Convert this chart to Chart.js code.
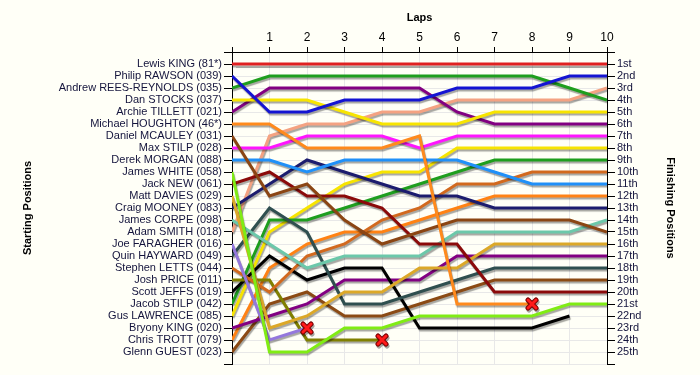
<!DOCTYPE html>
<html>
<head>
<meta charset="utf-8">
<script src="https://cdn.jsdelivr.net/npm/chart.js@4.4.1/dist/chart.umd.min.js"></script>
<style>
  html, body { margin: 0; padding: 0; background: #fffff7; }
  #lapChart { display: block; }
</style>
</head>
<body>
<canvas id="lapChart" width="700" height="375"></canvas>
<script>
// Lap chart data: position of each driver at the end of every lap (lap 0 = grid)
const laps = [0, 1, 2, 3, 4, 5, 6, 7, 8, 9, 10];

const drivers = [
    'Lewis KING (81*)', 'Philip RAWSON (039)', 'Andrew REES-REYNOLDS (035)', 'Dan STOCKS (037)',
    'Archie TILLETT (021)', 'Michael HOUGHTON (46*)', 'Daniel MCAULEY (031)', 'Max STILP (028)',
    'Derek MORGAN (088)', 'James WHITE (058)', 'Jack NEW (061)', 'Matt DAVIES (029)',
    'Craig MOONEY (083)', 'James CORPE (098)', 'Adam SMITH (018)', 'Joe FARAGHER (016)',
    'Quin HAYWARD (049)', 'Stephen LETTS (044)', 'Josh PRICE (011)', 'Scott JEFFS (019)',
    'Jacob STILP (042)', 'Gus LAWRENCE (085)', 'Bryony KING (020)', 'Chris TROTT (079)',
    'Glenn GUEST (023)'
];

const finishLabels = [
    '1st', '2nd', '3rd', '4th', '5th', '6th', '7th', '8th', '9th', '10th',
    '11th', '12th', '13th', '14th', '15th', '16th', '17th', '18th', '19th', '20th',
    '21st', '22nd', '23rd', '24th', '25th'
];

const lewisKing          = [1, 1, 1, 1, 1, 1, 1, 1, 1, 1, 1];
const philipRawson       = [2, 5, 5, 4, 4, 4, 3, 3, 3, 2, 2];
const andrewReesReynolds = [3, 2, 2, 2, 2, 2, 2, 2, 2, 3, 4];
const danStocks          = [4, 4, 4, 5, 6, 6, 6, 5, 5, 5, 5];
const archieTillett      = [5, 3, 3, 3, 3, 3, 5, 6, 6, 6, 6];
const michaelHoughton    = [6, 6, 8, 8, 8, 7, 21, 21, 21];
const danielMcauley      = [7, 12, 11, 14, 16, 15, 14, 14, 14, 14, 15];
const maxStilp           = [8, 8, 7, 7, 7, 8, 7, 7, 7, 7, 7];
const derekMorgan        = [9, 9, 10, 9, 9, 9, 9, 10, 11, 11, 11];
const jamesWhite         = [10, 25, 25, 23, 23, 22, 22, 22, 22, 21, 21];
const jackNew            = [11, 10, 12, 12, 13, 16, 16, 20, 20, 20, 20];
const mattDavies         = [12, 23, 22, 20, 20, 18, 18, 16, 16, 16, 16];
const craigMooney        = [13, 11, 9, 10, 11, 12, 12, 13, 13, 13, 13];
const jamesCorpe         = [14, 16, 18, 17, 17, 17, 15, 15, 15, 15, 14];
const adamSmith          = [15, 7, 6, 6, 5, 5, 4, 4, 4, 4, 3];
const joeFaragher        = [16, 24, 23];
const quinHayward        = [17, 13, 15, 21, 21, 20, 19, 18, 18, 18, 18];
const stephenLetts       = [18, 20, 17, 16, 14, 13, 11, 11, 10, 10, 10];
const joshPrice          = [19, 19, 24, 24, 24];
const scottJeffs         = [20, 17, 19, 18, 18, 23, 23, 23, 23, 22];
const jacobStilp         = [21, 14, 14, 13, 12, 11, 10, 9, 9, 9, 9];
const gusLawrence        = [22, 15, 13, 11, 10, 10, 8, 8, 8, 8, 8];
const bryonyKing         = [23, 22, 21, 19, 19, 19, 17, 17, 17, 17, 17];
const chrisTrott         = [24, 18, 16, 15, 15, 14, 13, 12, 12, 12, 12];
const glennGuest         = [25, 21, 20, 22, 22, 21, 20, 19, 19, 19, 19];

const positions = [
    lewisKing, philipRawson, andrewReesReynolds, danStocks, archieTillett, michaelHoughton,
    danielMcauley, maxStilp, derekMorgan, jamesWhite, jackNew, mattDavies, craigMooney,
    jamesCorpe, adamSmith, joeFaragher, quinHayward, stephenLetts, joshPrice, scottJeffs,
    jacobStilp, gusLawrence, bryonyKing, chrisTrott, glennGuest
];

// drivers whose last point gets the red cross (retired)
const retiredDrivers = ['Michael HOUGHTON (46*)', 'Joe FARAGHER (016)', 'Josh PRICE (011)'];

// line colours, same order as drivers
const lineColors = [
    '#e02020', '#1414d2', '#1e9e1e', '#f7e400', '#820082', '#ff8a1c', '#8b4513', '#ff14ff',
    '#2090f8', '#80ec14', '#8b0a0a', '#dca828', '#1c1c6e', '#6cc8aa', '#f4a282', '#9478dc',
    '#2f4f4f', '#d2691e', '#808000', '#000000', '#1e9e1e', '#f7e400', '#820082', '#ff8214',
    '#8b4a14'
];

// red cross marker
const cross = document.createElement('canvas');
cross.width = 14;
cross.height = 14;
(function() {
    const c = cross.getContext('2d');
    c.lineCap = 'round';
    c.strokeStyle = '#7a0000';
    c.lineWidth = 5;
    c.beginPath(); c.moveTo(3, 3); c.lineTo(11, 11); c.moveTo(11, 3); c.lineTo(3, 11); c.stroke();
    c.strokeStyle = '#ff1a1a';
    c.lineWidth = 3;
    c.beginPath(); c.moveTo(3, 3); c.lineTo(11, 11); c.moveTo(11, 3); c.lineTo(3, 11); c.stroke();
})();

const datasets = drivers.map(function(name, i) {
    return {
        label: name,
        data: positions[i].map(function(p, lap) { return { x: laps[lap], y: p }; }),
        borderColor: lineColors[i],
        backgroundColor: lineColors[i],
        borderWidth: 3,
        pointRadius: 0,
        tension: 0,
        fill: false
    };
});

datasets.unshift({
    label: 'Retired',
    type: 'scatter',
    data: retiredDrivers.map(function(name) {
        const p = positions[drivers.indexOf(name)];
        return { x: laps[p.length - 1], y: p[p.length - 1] };
    }),
    pointStyle: cross,
    pointRadius: 7,
    showLine: false
});

// soft drop shadow under every line
const shadowPlugin = {
    id: 'lineShadow',
    beforeDatasetDraw(chart) {
        const ctx = chart.ctx;
        ctx.save();
        ctx.shadowColor = 'rgba(0, 0, 0, 0.35)';
        ctx.shadowOffsetX = 1;
        ctx.shadowOffsetY = 2;
        ctx.shadowBlur = 1;
    },
    afterDatasetDraw(chart) {
        chart.ctx.restore();
    }
};

const bgPlugin = {
    id: 'bg',
    beforeDraw(chart) {
        const ctx = chart.ctx;
        ctx.save();
        ctx.fillStyle = '#fffff7';
        ctx.fillRect(0, 0, chart.width, chart.height);
        ctx.restore();
    }
};

const tickFont = { family: '"Liberation Sans", Arial, sans-serif', size: 11 };
const titleFont = { family: '"Liberation Sans", Arial, sans-serif', size: 11, weight: 'bold' };

const lapCtx = document.getElementById('lapChart').getContext('2d');
const lapChart = new Chart(lapCtx, {
    type: 'line',
    data: { datasets: datasets },
    plugins: [bgPlugin, shadowPlugin],
    options: {
        responsive: false,
        animation: false,
        layout: { padding: { left: 0, right: 0, top: 0, bottom: 11 } },
        plugins: {
            legend: { display: false },
            tooltip: { enabled: false }
        },
        scales: {
            x: {
                type: 'linear',
                position: 'top',
                min: 0,
                max: 10,
                afterFit: function(scale) { scale.height = 52; },
                grid: { color: '#e8e8e8', tickColor: '#000', tickLength: 5 },
                border: { color: '#000', width: 1 },
                ticks: {
                    stepSize: 1,
                    padding: 2,
                    color: '#000',
                    font: { family: '"Liberation Sans", Arial, sans-serif', size: 12 },
                    callback: function(v) { return v === 0 ? '' : v; }
                },
                title: { display: true, text: 'Laps', color: '#000', font: titleFont, padding: { top: 11, bottom: 0 } }
            },
            y: {
                type: 'linear',
                position: 'left',
                reverse: true,
                min: 0,
                max: 26,
                afterFit: function(scale) { scale.width = 232; },
                grid: { color: '#e8e8e8', tickColor: '#000', tickLength: 8 },
                border: { color: '#000', width: 1 },
                ticks: {
                    stepSize: 1,
                    autoSkip: false,
                    padding: 2,
                    color: '#14143c',
                    font: tickFont,
                    callback: function(v) { return drivers[v - 1] || ''; }
                },
                title: { display: true, text: 'Starting Positions', color: '#000', font: titleFont, padding: { top: 21, bottom: 0 } }
            },
            y2: {
                type: 'linear',
                position: 'right',
                reverse: true,
                min: 0,
                max: 26,
                afterFit: function(scale) { scale.width = 93; },
                grid: { drawOnChartArea: false, tickColor: '#000', tickLength: 8 },
                border: { color: '#000', width: 1 },
                ticks: {
                    stepSize: 1,
                    autoSkip: false,
                    padding: 2,
                    color: '#14143c',
                    font: tickFont,
                    callback: function(v) { return finishLabels[v - 1] || ''; }
                },
                title: { display: true, text: 'Finishing Positions', color: '#000', font: titleFont, padding: { top: 23, bottom: 0 } }
            }
        }
    }
});
</script>
</body>
</html>
